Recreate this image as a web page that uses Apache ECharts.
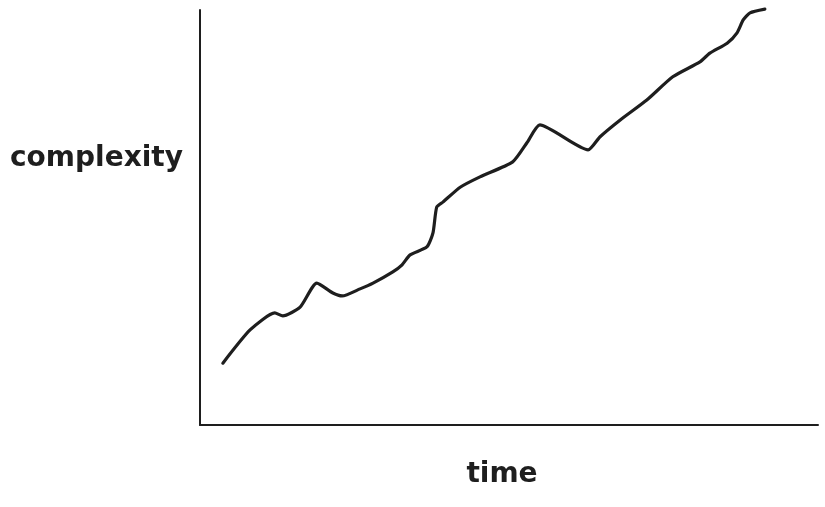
<!DOCTYPE html>
<html>
<head>
    <meta charset="UTF-8">
    <title>complexity over time</title>
    <script src="https://cdn.jsdelivr.net/npm/echarts@6/dist/echarts.min.js"></script>
    <style>
        html, body { margin: 0; padding: 0; background: #fff; }
        #main { width: 825px; height: 507px; }
    </style>
</head>
<body>
    <div id="main"></div>
    <script type="text/javascript">
        // time (0-100) and complexity (0-100)
        var time = [3.7, 8.1, 12.1, 13.4, 16.2, 18.9, 21.5, 23.0, 25.9, 28.0, 31.2, 32.7, 34.0, 36.7, 37.7,
            38.3, 39.3, 42.1, 45.3, 50.6, 52.9, 55.0, 62.8, 64.7, 68.0, 72.3, 76.5, 80.9, 82.5, 85.3,
            86.9, 87.9, 89.0, 91.4];
        var complexity = [14.9, 22.9, 27.0, 26.3, 28.4, 34.2, 31.8, 31.1, 32.8, 34.2, 36.9, 38.6, 41.0, 42.9, 46.3,
            52.5, 53.7, 57.3, 59.8, 63.4, 68.0, 72.3, 66.3, 69.4, 73.5, 78.3, 83.9, 87.5, 89.6, 92.0,
            94.5, 97.6, 99.3, 100.2];
        var xName = 'time';
        var yName = 'complexity';

        var points = [];
        for (var i = 0; i < time.length; i++) {
            points.push([time[i], complexity[i]]);
        }

        var ink = '#1e1e1e';
        var myChart = echarts.init(document.getElementById('main'));

        var option = {
            animation: false,
            backgroundColor: '#ffffff',
            grid: {
                left: 200,
                right: 7,
                top: 10,
                bottom: 82
            },
            xAxis: {
                type: 'value',
                min: 0,
                max: 100,
                name: xName,
                nameLocation: 'middle',
                nameGap: 36,
                nameTextStyle: {
                    color: ink, fontSize: 28, fontWeight: 'bold', fontFamily: 'DejaVu Sans',
                    padding: [0, 14, 0, 0]
                },
                axisLine: { show: true, lineStyle: { color: ink, width: 2 } },
                axisTick: { show: false },
                axisLabel: { show: false },
                splitLine: { show: false }
            },
            yAxis: {
                type: 'value',
                min: 0,
                max: 100,
                axisLine: { show: true, lineStyle: { color: ink, width: 2 } },
                axisTick: { show: false },
                axisLabel: { show: false },
                splitLine: { show: false }
            },
            graphic: [{
                type: 'text',
                left: 10,
                top: 145,
                style: {
                    text: yName,
                    fill: ink,
                    fontSize: 28,
                    fontWeight: 'bold',
                    fontFamily: 'DejaVu Sans'
                }
            }],
            series: [{
                type: 'line',
                data: points,
                showSymbol: false,
                smooth: 0.2,
                clip: false,
                lineStyle: { color: ink, width: 3.2, cap: 'round', join: 'round' }
            }]
        };

        myChart.setOption(option);
    </script>
</body>
</html>
